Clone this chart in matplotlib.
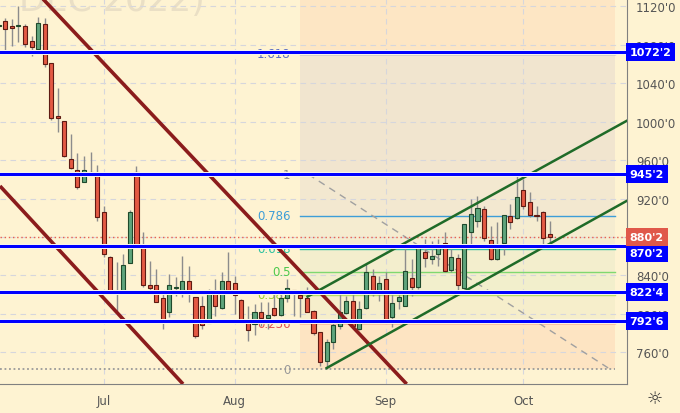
import numpy as np
import matplotlib.pyplot as plt
import matplotlib.patheffects as pe
import matplotlib.transforms as mtransforms

# daily candles, first one is cut at the left edge
opens = [1099.0, 1104.4, 1099.8, 1099.5, 1099.2, 1083.9, 1075.6, 1101.6, 1060.7, 1005.9,
         1000.6, 961.1, 950.0, 937.5, 947.3, 944.5, 905.6, 859.4, 823.4, 823.0,
         852.9, 947.9, 869.8, 830.0, 830.0, 816.5, 801.6, 827.2, 824.1, 834.5,
         817.2, 807.8, 790.4, 821.7, 805.7, 834.5, 831.8, 814.4, 792.8, 789.4,
         801.6, 795.3, 805.7, 798.8, 816.2, 824.8, 819.6, 816.2, 803.2, 780.8,
         751.2, 770.4, 787.0, 800.9, 813.7, 784.2, 805.7, 839.7, 820.6, 836.2,
         796.7, 813.7, 808.5, 837.0, 828.2, 864.6, 857.0, 862.2, 873.7, 845.6,
         857.8, 826.9, 885.5, 896.3, 909.1, 876.8, 857.0, 873.4, 901.5, 899.4,
         929.2, 916.0, 902.8, 905.6, 882.7]
highs = [1102.6, 1107.8, 1106.8, 1120.6, 1101.6, 1089.1, 1108.9, 1107.8, 1061.5, 1035.0,
         1001.0, 987.1, 967.3, 964.5, 968.4, 954.9, 912.2, 860.5, 854.2, 862.3,
         908.3, 954.1, 885.5, 855.3, 846.6, 822.7, 841.4, 838.3, 860.5, 850.1,
         817.5, 818.5, 825.8, 836.2, 843.2, 864.0, 839.7, 815.4, 808.5, 810.2,
         812.3, 812.6, 820.6, 822.4, 836.2, 825.0, 824.1, 827.6, 803.5, 781.5,
         773.8, 794.6, 820.6, 818.9, 823.0, 813.7, 851.8, 846.6, 839.7, 843.5,
         822.7, 822.7, 872.7, 857.0, 871.6, 877.9, 876.1, 877.9, 884.8, 867.4,
         862.2, 894.0, 919.5, 922.9, 912.5, 891.7, 895.2, 903.3, 914.3, 945.5,
         940.3, 926.5, 912.5, 907.3, 896.9]
lows = [1096.4, 1072.4, 1079.0, 1082.9, 1077.7, 1068.3, 1075.0, 1056.8, 1002.0, 989.2,
        963.5, 951.0, 929.9, 936.9, 943.7, 896.9, 859.1, 820.6, 803.2, 822.5,
        852.5, 869.2, 827.6, 824.0, 812.0, 784.2, 796.7, 818.9, 817.5, 812.3,
        775.2, 784.2, 790.0, 798.0, 805.0, 820.6, 799.8, 791.5, 772.0, 778.0,
        787.6, 784.2, 797.7, 797.7, 812.0, 798.0, 796.4, 801.9, 778.0, 745.7,
        742.5, 763.4, 784.2, 799.8, 787.0, 783.5, 805.0, 818.9, 813.7, 792.5,
        786.3, 805.0, 808.0, 818.9, 825.8, 848.4, 851.8, 850.1, 843.2, 843.2,
        820.6, 826.0, 872.7, 890.0, 876.1, 856.5, 856.5, 861.2, 888.3, 899.0,
        909.1, 900.4, 896.9, 872.7, 872.7]
closes = [1100.5, 1096.4, 1097.1, 1100.0, 1080.8, 1078.0, 1102.6, 1060.0, 1003.5, 1003.8,
          964.5, 951.7, 932.3, 950.0, 944.5, 900.4, 862.2, 822.4, 821.4, 851.1,
          905.6, 870.9, 830.0, 827.2, 812.6, 792.8, 830.0, 827.8, 834.5, 821.7,
          776.6, 788.4, 822.4, 807.8, 834.5, 825.1, 819.6, 793.6, 783.2, 801.6,
          795.3, 798.8, 798.8, 816.2, 826.6, 822.4, 816.8, 802.2, 780.0, 749.5,
          771.0, 788.4, 801.6, 813.7, 787.6, 805.0, 843.2, 820.6, 832.1, 794.6,
          811.3, 817.2, 844.2, 828.2, 868.5, 857.8, 860.5, 871.6, 844.2, 859.4,
          830.0, 893.5, 903.9, 909.8, 878.9, 857.0, 870.3, 902.8, 895.2, 921.2,
          911.9, 902.8, 901.5, 878.6, 880.2]
bar_idx = np.arange(len(opens)) - 1

month_names = ['Jul', 'Aug', 'Sep', 'Oct']
month_idx = [15, 35, 58, 79]

y_ticks = [760, 800, 840, 880, 920, 960, 1000, 1040, 1080, 1120]
y_tick_labels = ["760'0", "800'0", "840'0", "880'0", "920'0", "960'0",
                 "1000'0", "1040'0", "1080'0", "1120'0"]

# horizontal support / resistance levels
level_prices = [1072.25, 945.25, 870.25, 822.5, 792.75]
level_labels = ["1072'2", "945'2", "870'2", "822'4", "792'6"]
label_shift = [0, 0, -7, 0, 0]  # px, the 870'2 tag is pushed down under the 880'2 tag
last_price = 880.25
last_label = "880'2"

# fibonacci retracement (from low to high)
fib_low, fib_high = 742.5, 945.2
fib_x0, fib_x1 = 44.9, 92.9
fib_trend_x = [46.2, 92.2]
fib_ratios = [0, 0.236, 0.382, 0.5, 0.618, 0.786, 1, 1.618]
fib_names = ['0', '0.236', '0.382', '0.5', '0.618', '0.786', '1', '1.618']
fib_text_colors = ['#9a9a9a', '#e05454', '#9acd32', '#4cc94c', '#2dc2a0', '#3d9ed8', '#8a8a8a', '#5b6fc4']
fib_line_colors = ['#9a9a9a', '#e03030', '#b5dc6a', '#7fd870', '#2dc2a0', '#3d9ed8', '#8a8a8a', '#5b6fc4']
fib_fills = ['#fde4c2', '#f6eecb', '#f2efcc', '#f3eecd', '#f5ecd0', '#f3e8d0', '#f1e5cf', '#fde6c4']

# channels: (index, price) end points
red_lines = [([5.75, 61.2], [1127.6, 727.0]), ([-0.81, 27.1], [933.0, 727.0])]
green_lines = [([49.0, 94.8], [743.6, 917.7]), ([46.1, 94.8], [818.0, 1001.0])]

bg = '#fef3d2'
fig = plt.figure(figsize=(6.8, 4.14), dpi=100, facecolor=bg)
ax = fig.add_axes([0, 29 / 414, 627 / 680, 385 / 414], facecolor=bg)
ax.set_xlim(-0.81, 94.8)
ax.set_ylim(727.0, 1127.6)

# watermark
ax.text(205 / 627, 1 - 11 / 385, 'DEC 2022)', transform=ax.transAxes, ha='right', va='baseline',
        fontsize=25, color='#eadfc5', zorder=0.2)

# fib background bands
fib_prices = [fib_low + r * (fib_high - fib_low) for r in fib_ratios]
band_edges = fib_prices + [1127.6]
for k in range(len(fib_fills)):
    ax.fill_between([fib_x0, fib_x1], band_edges[k], band_edges[k + 1], color=fib_fills[k],
                    lw=0, zorder=0.5)

# grid
for t in y_ticks:
    ax.axhline(t, color='#d6d6dc', lw=0.8, dashes=(5, 4), zorder=1)
for m in month_idx:
    ax.axvline(m, color='#d6d6dc', lw=0.8, dashes=(5, 4), zorder=1)

# fib lines and labels
for k, p in enumerate(fib_prices):
    if fib_names[k] == '0':
        continue
    ax.plot([fib_x0, fib_x1], [p, p], color=fib_line_colors[k], lw=1, zorder=2)
for k, p in enumerate(fib_prices):
    ax.text(fib_x0 - 1.4, p, fib_names[k], ha='right', va='center', fontsize=8.5,
            color=fib_text_colors[k], zorder=2)
ax.plot([-0.81, fib_x1], [fib_low, fib_low], color='#9a9a9a', lw=1.3, ls=(0, (1, 1.5)), zorder=2)
ax.plot(fib_trend_x, [fib_high, fib_low], color='#a0a0a0', lw=1, dashes=(5, 4), zorder=2)

# last price dotted line
ax.axhline(last_price, color='#e86050', lw=1, ls=(0, (1, 2)), zorder=2)

# candles
up = np.array(closes) >= np.array(opens)
ax.vlines(bar_idx, lows, highs, color='#8c8c8c', lw=1, zorder=3)
body_bottom = np.minimum(opens, closes)
body_h = np.maximum(np.abs(np.array(closes) - np.array(opens)), 1.0)
ax.bar(bar_idx[up], body_h[up], bottom=body_bottom[up], width=0.62, color='#5fa47c',
       edgecolor='#1f4a2c', lw=0.8, zorder=4)
ax.bar(bar_idx[~up], body_h[~up], bottom=body_bottom[~up], width=0.62, color='#e45a44',
       edgecolor='#5e1a12', lw=0.8, zorder=4)

# channels
for xs, ys in red_lines:
    ax.plot(xs, ys, color='#8b1c1c', lw=2.6, zorder=5, solid_capstyle='butt')
for xs, ys in green_lines:
    ax.plot(xs, ys, color='#1f6b28', lw=1.8, zorder=5)

# blue levels
for p in level_prices:
    ax.axhline(p, color='#0000ff', lw=2.2, zorder=6,
               path_effects=[pe.withStroke(linewidth=3.6, foreground='#fffbea')])

# axes styling
for s in ['top', 'left']:
    ax.spines[s].set_visible(False)
for s in ['right', 'bottom']:
    ax.spines[s].set_color('#808080')
ax.yaxis.tick_right()
ax.set_yticks(y_ticks)
ax.set_yticklabels(y_tick_labels)
ax.set_xticks(month_idx)
ax.set_xticklabels(month_names)
ax.tick_params(axis='y', length=0, pad=6.5, labelsize=8.5, labelcolor='#555555')
ax.tick_params(axis='x', length=0, pad=7, labelsize=8.5, labelcolor='#555555')

ytr = ax.get_yaxis_transform()
for p, lab, sh in zip(level_prices, level_labels, label_shift):
    tr = ytr + mtransforms.ScaledTranslation(0, sh / 100, fig.dpi_scale_trans)
    ax.text(1.004, p, lab, transform=tr, ha='left', va='center', fontsize=8, color='white',
            fontweight='bold', clip_on=False, zorder=10,
            bbox=dict(boxstyle='square,pad=0.35', fc='#0000ff', ec='none'))
ax.text(1.004, last_price, last_label, transform=ytr, ha='left', va='center', fontsize=8,
        color='white', fontweight='bold', clip_on=False, zorder=11,
        bbox=dict(boxstyle='square,pad=0.35', fc='#e0584a', ec='none'))

fig.text(655 / 680, 1 - 399 / 414, '\u263c', ha='center', va='center', fontsize=13, color='#333333')

fig.savefig('out.png', dpi=100, facecolor=bg)
